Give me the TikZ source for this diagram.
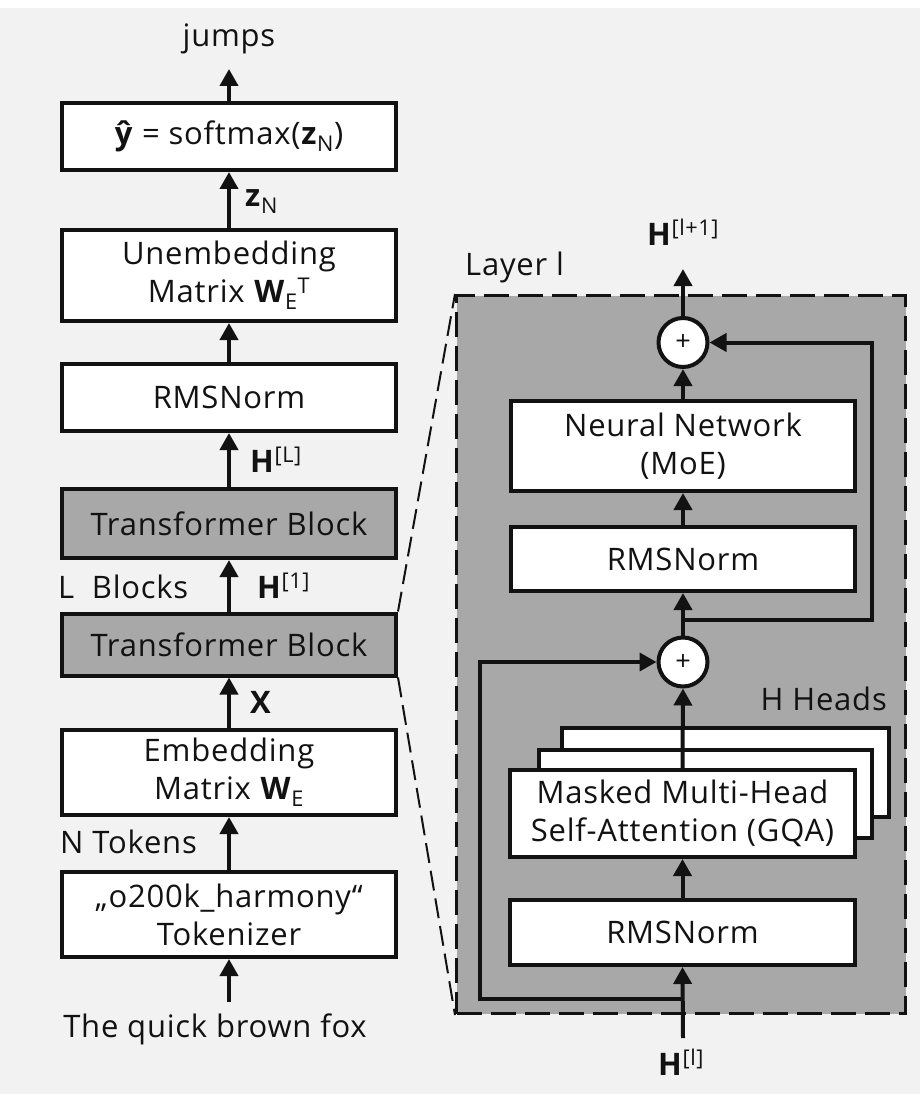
\documentclass[tikz,border=0pt]{standalone}
\usepackage{fontspec}
\setmainfont[LetterSpace=2.5]{Open Sans}
\usetikzlibrary{arrows.meta}
\definecolor{bg}{RGB}{242,242,242}
\definecolor{blockgray}{RGB}{168,168,168}
\definecolor{ink}{RGB}{18,18,18}
\newcommand\lblfont{\fontsize{31}{38}\selectfont}
\newcommand\plusfont{\fontsize{27}{27}\selectfont}
\newcommand\vb[1]{\textbf{#1}}

\begin{document}
\begin{tikzpicture}[x=1pt,y=-1pt,
  every node/.style={text=ink},
  box/.style={draw=ink, line width=4pt, fill=white, inner sep=0pt, align=center,
    font=\lblfont, minimum width=334pt},
  rbox/.style={box, minimum width=344pt},
  tblock/.style={box, fill=blockgray},
  headbox/.style={draw=ink, line width=4pt, fill=white},
  addop/.style={circle, draw=ink, line width=4pt, fill=white, minimum size=49pt,
    inner sep=0pt, font=\plusfont},
  lbl/.style={font=\lblfont, inner sep=0pt},
  wire/.style={draw=ink, line width=4pt},
  arr/.style={wire, -{Triangle[width=18pt,length=17pt]}},
  layerbox/.style={draw=ink, fill=blockgray, line width=3pt, dash pattern=on 25pt off 9pt,
    minimum width=449pt, minimum height=718pt, inner sep=0pt},
  zoomline/.style={draw=ink, line width=2pt, dash pattern=on 20pt off 8pt}]

% canvas
\useasboundingbox (0,0) rectangle (920,1094);
\fill[white] (0,0) rectangle (920,8);
\fill[bg] (0,8) rectangle (920,1094);

% ---------- full model (left column) ----------
\node[box, minimum height=67pt] (soft) at (229,136.5) {\vb{ŷ} = softmax(\vb{z}\textsubscript{N})};
\node[box, minimum height=91pt] (unemb) at (229,275.5) {Unembedding\\Matrix \vb{W}\textsubscript{E}\textsuperscript{T}};
\node[box, minimum height=67pt] (rmsL) at (229,397.5) {RMSNorm};
\node[tblock, minimum height=69pt] (tbTop) at (229,523.5) {Transformer Block};
\node[tblock, minimum height=62pt] (tbBot) at (229,644.5) {Transformer Block};
\node[box, minimum height=85pt] (emb) at (229,772.5) {Embedding\\Matrix \vb{W}\textsubscript{E}};
\node[box, minimum height=85pt] (tok) at (229,914.5) {„o200k\_harmony“\\Tokenizer};

\node[lbl, anchor=base] (out) at (229,47) {jumps};
\node[lbl, anchor=base] (inp) at (215,1037) {The quick brown fox};
\coordinate (outTip) at (229,69);
\coordinate (inpTail) at (229,1002);

\node[lbl, anchor=base west] (zN) at (245,207) {\vb{z}\textsubscript{N}};
\node[lbl, anchor=base west] (hL) at (250,472) {\vb{H}\textsuperscript{[L]}};
\node[lbl, anchor=base west] (h1) at (257,598) {\vb{H}\textsuperscript{[1]}};
\node[lbl, anchor=base west] (lblocks) at (58,598) {L\ \ Blocks};
\node[lbl, anchor=base west] (xin) at (250,713) {\vb{X}};
\node[lbl, anchor=base west] (ntok) at (60,853) {N Tokens};

\draw[arr] (inpTail) -- (tok.south);
\draw[arr] (tok.north) -- (emb.south);
\draw[arr] (emb.north) -- (tbBot.south);
\draw[arr] (tbBot.north) -- (tbTop.south);
\draw[arr] (tbTop.north) -- (rmsL.south);
\draw[arr] (rmsL.north) -- (unemb.south);
\draw[arr] (unemb.north) -- (soft.south);
\draw[arr] (soft.north) -- (outTip);

% ---------- one transformer layer (right panel) ----------
\node[layerbox] (layer) at (681,654.5) {};
\draw[zoomline] (tbBot.north east) -- (layer.north west);
\draw[zoomline] (tbBot.south east) -- (layer.south west);

\node[lbl, anchor=base west] (layerlbl) at (465,275) {Layer l};
\node[lbl, anchor=base west] (hnext) at (647,245) {\vb{H}\textsuperscript{[l+1]}};
\node[lbl, anchor=base east] (heads) at (887,710) {H Heads};
\node[lbl, anchor=base west] (hcur) at (658,1075) {\vb{H}\textsuperscript{[l]}};
\coordinate (hnextTip) at (683,269);
\coordinate (hcurTail) at (683,1038);

\node[addop] (addTop) at (683,342.5) {+};
\node[rbox, minimum height=90pt] (moe) at (683,446) {Neural Network\\(MoE)};
\node[rbox, minimum height=64pt] (rmsA) at (683,559) {RMSNorm};
\node[addop] (addBot) at (683,662) {+};

% stacked attention heads
\draw[headbox] (562,728) rectangle (889,817);
\draw[headbox] (539,750) rectangle (872,838);
\node[rbox, minimum width=345pt, minimum height=87pt] (attn) at (682.5,813.5)
  {Masked Multi-Head\\Self-Attention (GQA)};
\node[rbox, minimum width=345pt, minimum height=65pt] (rmsB) at (682.5,932.5) {RMSNorm};

\coordinate (brLow) at (683,999);
\coordinate (brHigh) at (683,620);

\draw[arr] (hcurTail) -- (rmsB.south);
\draw[arr] (rmsB.north) -- (attn.south);
\draw[arr] (attn.north) -- (addBot.south);
\draw[arr] (brLow) -- (480,999) |- (addBot.west);
\draw[arr] (addBot.north) -- (rmsA.south);
\draw[arr] (rmsA.north) -- (moe.south);
\draw[arr] (moe.north) -- (addTop.south);
\draw[arr] (brHigh) -- (872,620) |- (addTop.east);
\draw[arr] (addTop.north) -- (hnextTip);

\end{tikzpicture}
\end{document}
